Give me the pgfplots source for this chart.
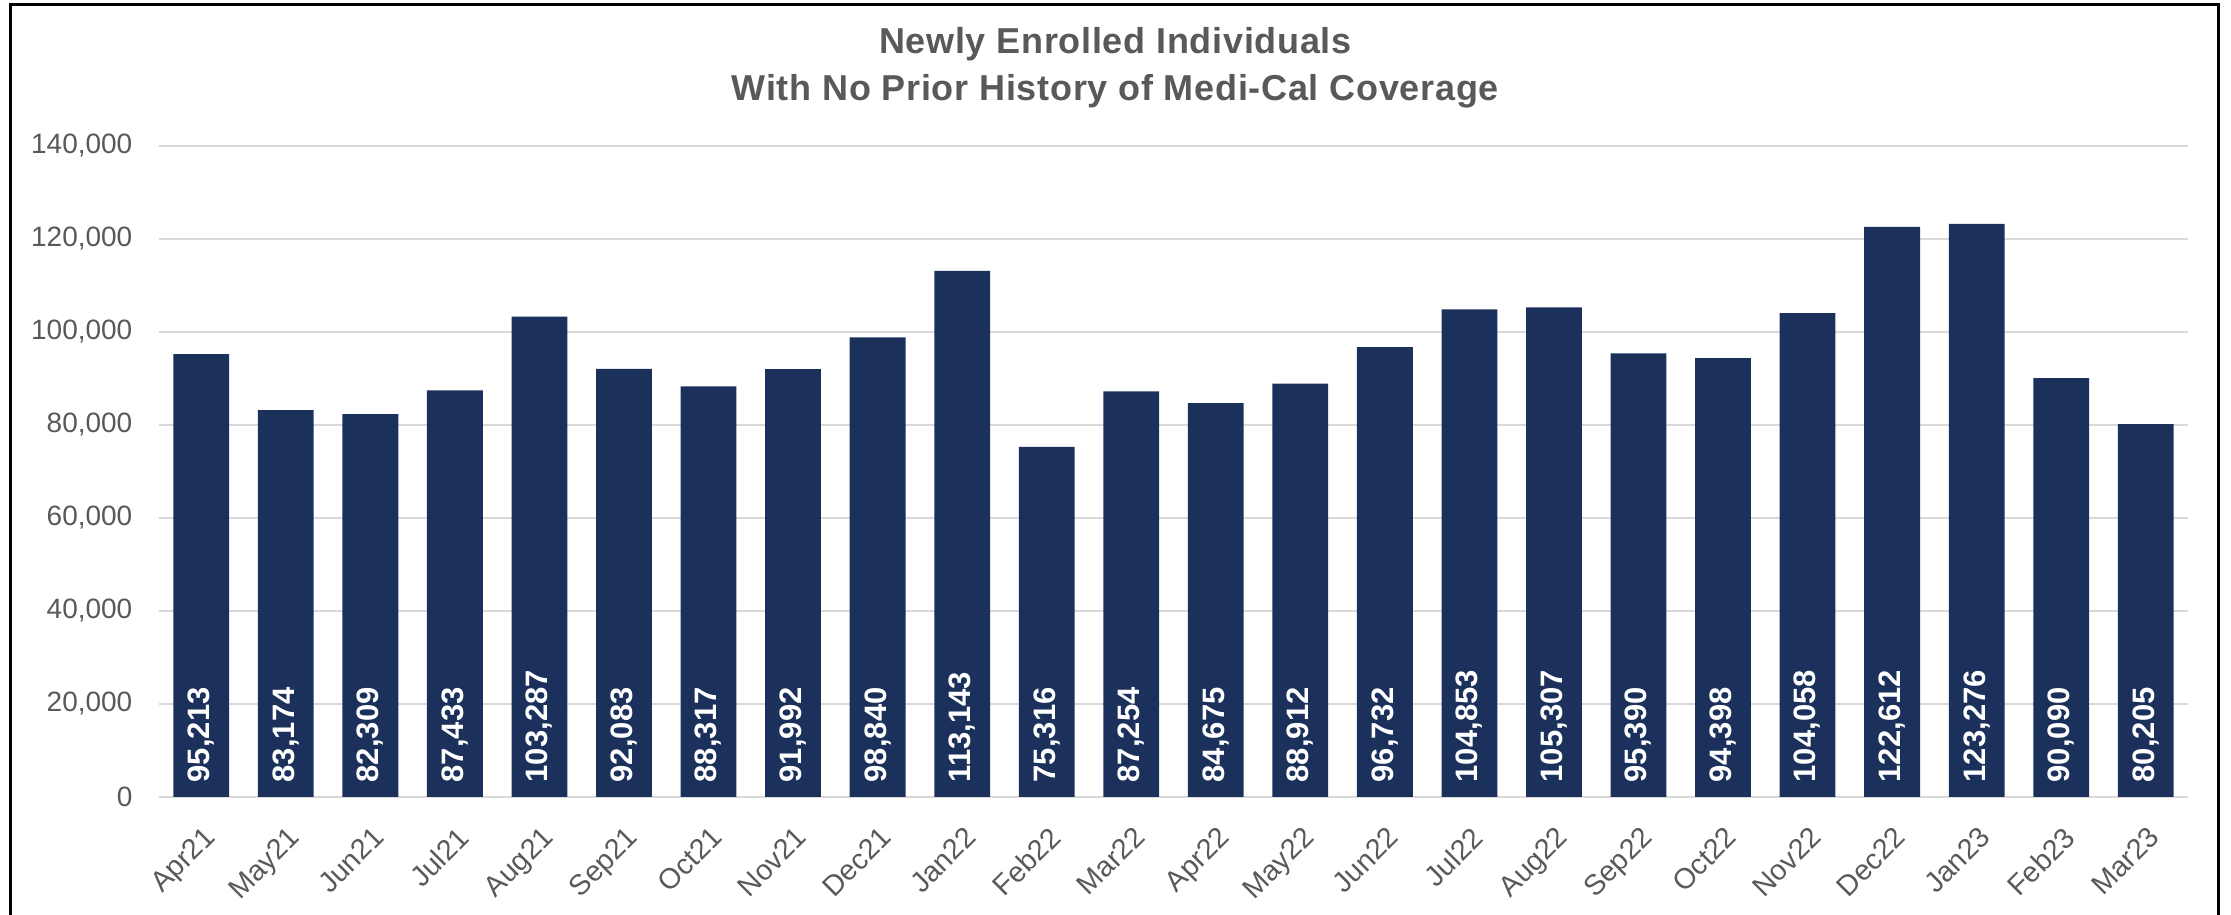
\documentclass[border=0pt]{standalone}
\usepackage{pgfplots}
\pgfplotsset{compat=1.18}
\usepackage{pgfplotstable}
\usepackage{fontspec}
\setmainfont{Liberation Sans}
\definecolor{barblue}{HTML}{1B315C}
\definecolor{txtgray}{HTML}{595959}
\definecolor{gridgray}{HTML}{D9D9D9}

% newly enrolled individuals per month
\pgfplotstableread{
idx month val
0  Apr21 95213
1  May21 83174
2  Jun21 82309
3  Jul21 87433
4  Aug21 103287
5  Sep21 92083
6  Oct21 88317
7  Nov21 91992
8  Dec21 98840
9  Jan22 113143
10 Feb22 75316
11 Mar22 87254
12 Apr22 84675
13 May22 88912
14 Jun22 96732
15 Jul22 104853
16 Aug22 105307
17 Sep22 95390
18 Oct22 94398
19 Nov22 104058
20 Dec22 122612
21 Jan23 123276
22 Feb23 90090
23 Mar23 80205
}\enrolled

\begin{document}
\begin{tikzpicture}
\useasboundingbox (0,0) rectangle (669.3pt,274.5pt);
\begin{axis}[
    at={(47.7pt,35.4pt)}, anchor=south west,
    scale only axis,
    width=608.7pt, height=195.3pt,
    xmin=-0.5, xmax=23.5,
    ymin=0, ymax=140000,
    ytick distance=20000,
    scaled y ticks=false,
    xtick=data,
    xticklabels from table={\enrolled}{month},
    axis line style={draw=none},
    major tick length=0pt,
    ymajorgrids,
    grid style={gridgray, line width=0.6pt},
    yticklabel style={font=\fontsize{8.4}{10}\selectfont, color=txtgray,
        anchor=east, inner sep=0pt, xshift=-7.8pt,
        /pgf/number format/.cd, fixed, 1000 sep={,}, assume math mode=true},
    xticklabel style={font=\fontsize{8.6}{10}\selectfont, color=txtgray,
        inner sep=0pt, yshift=-8.2pt, xshift=0.3pt, rotate=45, anchor=north east},
    clip=false,
]
\addplot[ybar, bar width=0.66, fill=barblue, draw=none]
    table[x=idx, y=val] {\enrolled};
% value labels sit at the foot of each bar
\addplot[draw=none, mark=none, point meta=explicit,
    nodes near coords={\pgfmathprintnumber[fixed, precision=0, 1000 sep={,}, assume math mode=true]{\pgfplotspointmeta}},
    nodes near coords style={font=\bfseries\fontsize{9.3}{10}\selectfont, text=white,
        rotate=90, anchor=west, inner sep=0pt, xshift=4.2pt}]
    table[x=idx, y expr=0, meta=val] {\enrolled};
\end{axis}
\node[anchor=base, font=\bfseries\fontsize{10.8}{12}\selectfont\addfontfeatures{LetterSpace=2}, text=txtgray]
    at (334.6pt,258.4pt) {Newly Enrolled Individuals};
\node[anchor=base, font=\bfseries\fontsize{10.8}{12}\selectfont\addfontfeatures{LetterSpace=2}, text=txtgray]
    at (334.6pt,244.4pt) {With No Prior History of Medi-Cal Coverage};
\draw[line width=0.9pt] (3pt,0) -- (3pt,273pt) -- (665.4pt,273pt) -- (665.4pt,0);
\end{tikzpicture}
\end{document}
